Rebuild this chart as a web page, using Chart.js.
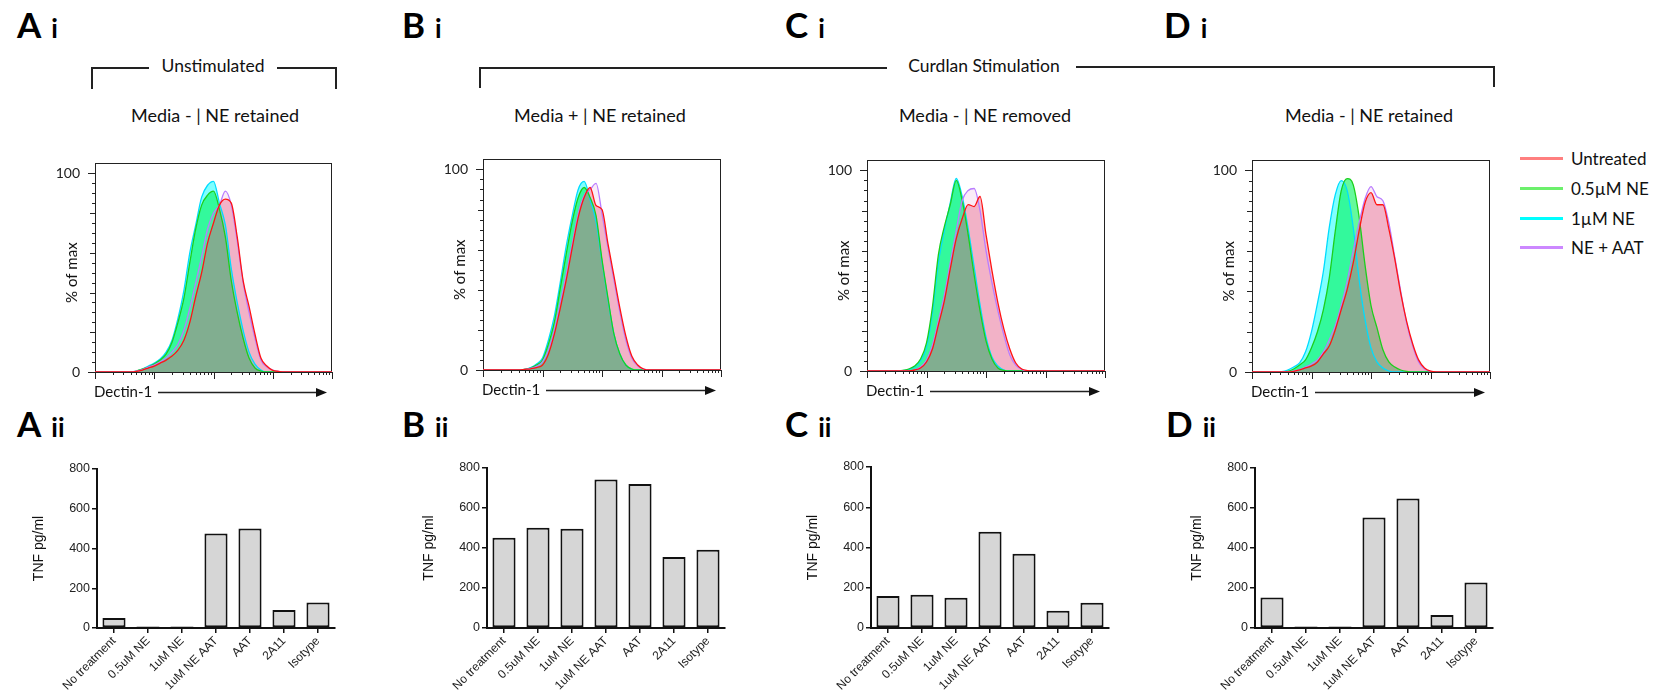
<!DOCTYPE html>
<html>
<head>
<meta charset="utf-8">
<script src="https://cdn.jsdelivr.net/npm/chart.js@4.4.0/dist/chart.umd.min.js"></script>
<style>
  body { margin: 0; background: #fff; width: 1660px; height: 696px; position: relative; overflow: hidden; font-family: Lato, sans-serif; color: #111; }
  canvas { position: absolute; }
  .pl { position: absolute; font-weight: 700; font-size: 35px; line-height: 35px; color: #000; white-space: nowrap; }
  .pl span { font-size: 26px; margin-left: 10px; }
  .sub { position: absolute; width: 300px; text-align: center; font-size: 18px; line-height: 20px; white-space: nowrap; }
  .head { position: absolute; width: 300px; text-align: center; font-size: 17.5px; line-height: 20px; white-space: nowrap; }
  .ln { position: absolute; background: #222; }
  .leg { position: absolute; left: 1520px; width: 43px; height: 3px; }
  .legt { position: absolute; left: 1571px; font-size: 17px; line-height: 20px; white-space: nowrap; }
</style>
</head>
<body>
<!-- panel letters -->
<div class="pl" style="left:17px;top:7px">A<span>i</span></div>
<div class="pl" style="left:402px;top:7px">B<span>i</span></div>
<div class="pl" style="left:785px;top:7px">C<span>i</span></div>
<div class="pl" style="left:1164px;top:7px">D<span>i</span></div>
<div class="pl" style="left:17px;top:406px">A<span>ii</span></div>
<div class="pl" style="left:402px;top:406px">B<span>ii</span></div>
<div class="pl" style="left:785px;top:406px">C<span>ii</span></div>
<div class="pl" style="left:1166px;top:406px">D<span>ii</span></div>

<!-- brackets -->
<div class="ln" style="left:91px;top:67px;width:2px;height:22px"></div>
<div class="ln" style="left:91px;top:67px;width:58px;height:2px"></div>
<div class="ln" style="left:277px;top:67px;width:60px;height:2px"></div>
<div class="ln" style="left:335px;top:67px;width:2px;height:22px"></div>
<div class="head" style="left:63px;top:56px">Unstimulated</div>

<div class="ln" style="left:479px;top:67px;width:2px;height:21px"></div>
<div class="ln" style="left:479px;top:67px;width:408px;height:2px"></div>
<div class="ln" style="left:1076px;top:66px;width:419px;height:2px"></div>
<div class="ln" style="left:1493px;top:66px;width:2px;height:21px"></div>
<div class="head" style="left:834px;top:56px">Curdlan Stimulation</div>

<div class="sub" style="left:65px;top:105px">Media - | NE retained</div>
<div class="sub" style="left:450px;top:105px">Media + | NE retained</div>
<div class="sub" style="left:835px;top:105px">Media - | NE removed</div>
<div class="sub" style="left:1219px;top:105px">Media - | NE retained</div>

<!-- legend -->
<div class="leg" style="top:157px;background:#ff7f7f"></div><div class="legt" style="top:149px">Untreated</div>
<div class="leg" style="top:187px;background:#6cf06c"></div><div class="legt" style="top:179px">0.5µM NE</div>
<div class="leg" style="top:217px;background:#00ffff"></div><div class="legt" style="top:209px">1µM NE</div>
<div class="leg" style="top:246px;background:#cc88ff"></div><div class="legt" style="top:238px">NE + AAT</div>

<canvas id="histA"></canvas>
<canvas id="histB"></canvas>
<canvas id="histC"></canvas>
<canvas id="histD"></canvas>
<canvas id="barA"></canvas>
<canvas id="barB"></canvas>
<canvas id="barC"></canvas>
<canvas id="barD"></canvas>

<script>
// Dectin-1 channel, in decades of the log axis
const channels = [0, 0.1, 0.2, 0.3, 0.4, 0.5, 0.6, 0.7, 0.8, 0.9, 1.0, 1.1, 1.2, 1.3, 1.4, 1.5, 1.6, 1.7, 1.8, 1.9, 2.0,
                  2.1, 2.2, 2.3, 2.4, 2.5, 2.6, 2.7, 2.8, 2.9, 3.0, 3.1, 3.2, 3.3, 3.4, 3.5, 3.6, 3.7, 3.8, 3.9, 4.0];

// % of max, panel A (unstimulated)
const aUntreated = [0,0,0,0,0,0,0,0.3,1,2,3,4.5,6,8,11,16,25,38,50,65,75,84,87,85,68,46,33,19,7,3,0.8,0.3,0,0,0,0,0,0,0,0,0];
const aNe05      = [0,0,0,0,0,0,0,0.5,1.5,2.5,4,6,9,15,25,37,55,72,84,89,91,82,68,46,30,17,7,2,0.5,0,0,0,0,0,0,0,0,0,0,0,0];
const aNe1       = [0,0,0,0,0,0,0,0.5,1.5,3,4.5,6.5,10,16,27,41,60,74,88,94,96,85,74,52,35,21,10,4,1,0,0,0,0,0,0,0,0,0,0,0,0];
const aNeAat     = [0,0,0,0,0,0,0,0.4,1.2,2.5,3.5,5,7,10,14,21,32,45,58,72,80,84,91,84,66,45,30,17,6,2.5,1,0.3,0,0,0,0,0,0,0,0,0];

// panel B (media +, NE retained)
const bUntreated = [0,0,0,0,0,0,0,0.3,0.6,1.2,2.5,8,18,31,45,61,76,86,91,82,80,63,47,31,17,7,2.5,0.5,0,0,0,0,0,0,0,0,0,0,0,0,0];
const bNe05      = [0,0,0,0,0,0,0,0.3,1,2.5,5,13,24,41,58,74,86,91,86,77,55,36,18,8,2.5,0.5,0,0,0,0,0,0,0,0,0,0,0,0,0,0,0];
const bNe1       = [0,0,0,0,0,0,0,0.3,1.2,3,6,15,27,44,62,77,90,94,85,74,54,35,18,8,2.5,0.5,0,0,0,0,0,0,0,0,0,0,0,0,0,0,0];
const bNeAat     = [0,0,0,0,0,0,0,0.3,0.8,1.8,4,10,20,34,48,63,78,87,90,93,78,61,45,29,15,6,2,0.4,0,0,0,0,0,0,0,0,0,0,0,0,0];

// panel C (media -, NE removed)
const cUntreated = [0,0,0,0,0,0,0,0,0.5,1.5,4.5,11,23,35,51,66,76,83,82,87,68,50,34,21,11,4,1,0.2,0,0,0,0,0,0,0,0,0,0,0,0,0];
const cNe05      = [0,0,0,0,0,0,0.3,1,2.5,6,14,32,58,72,83,95,85,68,48,30,15,6,1.5,0.3,0,0,0,0,0,0,0,0,0,0,0,0,0,0,0,0,0];
const cNe1       = [0,0,0,0,0,0,0.2,0.8,2,5,12,29,54,70,84,96,87,71,52,33,17,7,2.5,0.5,0,0,0,0,0,0,0,0,0,0,0,0,0,0,0,0,0];
const cNeAat     = [0,0,0,0,0,0,0,0,0.6,2,5.5,13,25,38,54,70,85,90,91,80,60,44,30,18,8,3,0.8,0,0,0,0,0,0,0,0,0,0,0,0,0,0];

// panel D (media -, NE retained)
const dUntreated = [0,0,0,0,0,0,0,0.3,1,2,3,5,9,13,21,31,41,54,70,84,89,83,83,71,56,39,25,14,6,2,0.4,0,0,0,0,0,0,0,0,0,0];
const dNe05      = [0,0,0,0,0,0,0.3,1.5,3.5,6,12,20,31,47,70,90,96,93,77,53,33,22,11,5,2.5,1,0.3,0,0,0,0,0,0,0,0,0,0,0,0,0,0];
const dNe1       = [0,0,0,0,0,0.2,1,2.5,4.5,10,20,34,50,72,88,95,90,72,46,26,12,5,2,0.5,0,0,0,0,0,0,0,0,0,0,0,0,0,0,0,0,0];
const dNeAat     = [0,0,0,0,0,0,0,0.4,1.2,2.5,4,6,10,16,23,33,45,60,74,86,92,87,85,74,57,40,24,13,5,1.5,0.3,0,0,0,0,0,0,0,0,0,0];

// TNF ELISA
const treatments = ['No treatment', '0.5uM NE', '1uM NE', '1uM NE AAT', 'AAT', '2A11', 'Isotype'];
const tnfA = [50, 8, 8, 476, 501, 91, 128];
const tnfB = [451, 501, 496, 743, 720, 355, 391];
const tnfC = [159, 165, 150, 478, 369, 86, 126];
const tnfD = [153, 8, 8, 552, 647, 65, 228];
const tnfTicks = [0, 200, 400, 600, 800];
const decades = [0, 1, 2, 3, 4];

// fills: cyan at the bottom, red on top; lines above all fills
const styles = {
  untreated: { line: '#ff1414', fill: 'rgba(225,70,110,0.35)', lineOrder: 0, fillOrder: 4 },
  neAat:     { line: '#b97cff', fill: 'rgba(220,130,200,0.15)', lineOrder: 1, fillOrder: 5 },
  ne05:      { line: '#1ccf1c', fill: 'rgba(0,245,90,0.6)', lineOrder: 2, fillOrder: 6 },
  ne1:       { line: '#00dcff', fill: 'rgba(0,255,255,0.5)', lineOrder: 3, fillOrder: 7 }
};

const HIST_PAD = { left: 45, top: 12, right: 6, bottom: 36 };
const BAR_PAD = { left: 66, top: 14, right: 6, bottom: 68 };

// frame, flow-style ticks, axis captions
const flowFrame = {
  id: 'flowFrame',
  beforeDatasetsDraw(chart) {
    const { ctx, chartArea: a, scales: { x, y } } = chart;
    ctx.save();
    ctx.strokeStyle = '#222';
    ctx.lineWidth = 1;
    ctx.strokeRect(Math.round(a.left) + 0.5, Math.round(a.top) + 0.5, Math.round(a.width) - 1, Math.round(a.height));
    ctx.beginPath();
    y.ticks.forEach(t => {
      if (t.value > 100) return;
      const py = Math.round(y.getPixelForValue(t.value)) + 0.5;
      const len = t.value % 100 === 0 ? 7 : (t.value % 20 === 0 ? 5 : 3);
      ctx.moveTo(a.left, py);
      ctx.lineTo(a.left - len, py);
    });
    const by = Math.round(a.bottom);
    decades.forEach(d => {
      const px = Math.round(x.getPixelForValue(d)) + 0.5;
      ctx.moveTo(px, by);
      ctx.lineTo(px, by + 7);
      if (d < 4) {
        for (let m = 2; m < 10; m++) {
          const pm = Math.round(x.getPixelForValue(d + Math.log10(m))) + 0.5;
          ctx.moveTo(pm, by);
          ctx.lineTo(pm, by + 3);
        }
      }
    });
    ctx.stroke();

    ctx.fillStyle = '#111';
    ctx.font = '15px Lato';
    ctx.textBaseline = 'middle';
    ctx.textAlign = 'left';
    ctx.fillText('Dectin-1', a.left - 1, a.bottom + 20);
    // arrow
    const ay = Math.round(a.bottom + 20) + 0.5;
    ctx.lineWidth = 1.6;
    ctx.beginPath();
    ctx.moveTo(a.left + 63, ay);
    ctx.lineTo(a.right - 14, ay);
    ctx.stroke();
    ctx.beginPath();
    ctx.moveTo(a.right - 5, ay);
    ctx.lineTo(a.right - 16, ay - 4.5);
    ctx.lineTo(a.right - 16, ay + 4.5);
    ctx.closePath();
    ctx.fill();

    ctx.translate(a.left - 23, y.getPixelForValue(50));
    ctx.rotate(-Math.PI / 2);
    ctx.textAlign = 'center';
    ctx.fillText('% of max', 0, 0);
    ctx.restore();
  }
};

function placeCanvas(id, left, top, width, height) {
  const c = document.getElementById(id);
  c.width = width;
  c.height = height;
  c.style.left = left + 'px';
  c.style.top = top + 'px';
  return c;
}

function histogram(id, box, untreated, ne05, ne1, neAat) {
  const w = box.right - box.left, h = box.bottom - box.top;
  const c = placeCanvas(id, box.left - HIST_PAD.left, box.top - HIST_PAD.top,
    w + HIST_PAD.left + HIST_PAD.right, h + HIST_PAD.top + HIST_PAD.bottom);
  const series = [
    [untreated, styles.untreated], [neAat, styles.neAat], [ne05, styles.ne05], [ne1, styles.ne1]
  ];
  const datasets = [];
  series.forEach(([data, s]) => {
    datasets.push({ data, fill: 'origin', backgroundColor: s.fill, borderWidth: 0, pointRadius: 0,
      cubicInterpolationMode: 'monotone', order: s.fillOrder });
    datasets.push({ data, fill: false, borderColor: s.line, borderWidth: 1.3, pointRadius: 0,
      cubicInterpolationMode: 'monotone', order: s.lineOrder });
  });
  return new Chart(c, {
    type: 'line',
    data: { labels: channels, datasets },
    options: {
      animation: false, responsive: false, devicePixelRatio: 1,
      layout: { padding: { left: 0, top: HIST_PAD.top, right: HIST_PAD.right, bottom: HIST_PAD.bottom } },
      plugins: { legend: { display: false }, tooltip: { enabled: false } },
      scales: {
        x: { type: 'linear', min: 0, max: 4, display: false },
        y: {
          min: 0, max: 105,
          grid: { display: false, drawTicks: false },
          border: { display: false },
          ticks: {
            stepSize: 5, autoSkip: false, padding: 15, color: '#222',
            font: { family: 'Lato', size: 14 },
            callback: v => (v === 0 || v === 100) ? String(v) : ''
          },
          afterFit: s => { s.width = HIST_PAD.left; }
        }
      }
    },
    plugins: [flowFrame]
  });
}

function barChart(id, axisX, topY, zeroY, values) {
  const c = placeCanvas(id, axisX - BAR_PAD.left, topY - BAR_PAD.top,
    BAR_PAD.left + 238 + BAR_PAD.right, (zeroY - topY) + BAR_PAD.top + BAR_PAD.bottom);
  const font = { family: '"Liberation Sans", Arial, sans-serif' };
  return new Chart(c, {
    type: 'bar',
    data: {
      labels: treatments,
      datasets: [{ data: values, backgroundColor: '#d6d6d6', borderColor: '#111', borderWidth: 2,
        borderSkipped: false, barPercentage: 0.68, categoryPercentage: 1 }]
    },
    options: {
      animation: false, responsive: false, devicePixelRatio: 1,
      layout: { padding: { left: 0, top: BAR_PAD.top, right: BAR_PAD.right, bottom: 0 } },
      plugins: { legend: { display: false }, tooltip: { enabled: false } },
      scales: {
        x: {
          grid: { offset: false, drawOnChartArea: false, tickLength: 5, color: '#111', lineWidth: 1.5 },
          border: { color: '#111', width: 2 },
          ticks: { minRotation: 45, maxRotation: 45, autoSkip: false, padding: 1, color: '#222',
            font: { ...font, size: 12 } },
          afterFit: s => { s.height = BAR_PAD.bottom; }
        },
        y: {
          min: 0, max: 800,
          afterBuildTicks: s => { s.ticks = tnfTicks.map(v => ({ value: v })); },
          grid: { drawOnChartArea: false, tickLength: 5, color: '#111', lineWidth: 1.5 },
          border: { color: '#111', width: 2 },
          ticks: { padding: 2, color: '#222', font: { ...font, size: 12.5 } },
          title: { display: true, text: 'TNF pg/ml', color: '#111', padding: 0, font: { ...font, size: 14 } },
          afterFit: s => { s.width = BAR_PAD.left; }
        }
      }
    }
  });
}

histogram('histA', { left: 95, top: 152, right: 332, bottom: 372 }, aUntreated, aNe05, aNe1, aNeAat);
histogram('histB', { left: 483, top: 148, right: 721, bottom: 370 }, bUntreated, bNe05, bNe1, bNeAat);
histogram('histC', { left: 867, top: 149, right: 1105, bottom: 371 }, cUntreated, cNe05, cNe1, cNeAat);
histogram('histD', { left: 1252, top: 149, right: 1490, bottom: 372 }, dUntreated, dNe05, dNe1, dNeAat);

barChart('barA', 97, 469, 628, tnfA);
barChart('barB', 487, 468, 628, tnfB);
barChart('barC', 871, 467, 628, tnfC);
barChart('barD', 1255, 468, 628, tnfD);
</script>
</body>
</html>
